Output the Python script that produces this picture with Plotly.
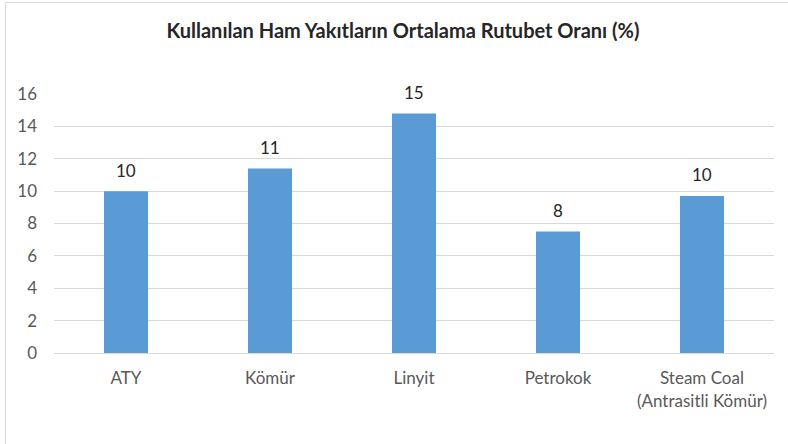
import plotly.graph_objects as go

categories = ["ATY", "Kömür", "Linyit", "Petrokok", "Steam Coal<br>(Antrasitli Kömür)"]
values = [10.0, 11.4, 14.8, 7.5, 9.7]
labels = ["10", "11", "15", "8", "10"]
y_ticks = [0, 2, 4, 6, 8, 10, 12, 14, 16]

FONT = "Lato, 'Open Sans', sans-serif"

fig = go.Figure(go.Bar(
    x=categories, y=values,
    marker=dict(color="#5B9BD5", line=dict(width=0)),
    width=0.306,
    hoverinfo="x+y",
))

for c, v, t in zip(categories, values, labels):
    fig.add_annotation(x=c, y=v, text=t, showarrow=False, yanchor="middle",
                       yshift=21, font=dict(size=17, color="#262626", family=FONT))

L, R, T, B = 54, 14, 94, 91
W, H = 788, 444
pw, ph = W - L - R, H - T - B

fig.update_layout(
    width=W, height=H,
    margin=dict(l=L, r=R, t=T, b=B),
    plot_bgcolor="white", paper_bgcolor="white",
    showlegend=False,
    title=dict(text="<b>Kullanılan Ham Yakıtların Ortalama Rutubet Oranı (%)</b>",
               x=403 / W, xanchor="center", y=1 - 31 / H, yanchor="middle",
               font=dict(size=20, color="#262626", family=FONT)),
    font=dict(family=FONT),
    xaxis=dict(showgrid=False, showline=True, linecolor="#D9D9D9", linewidth=1,
               ticks="", tickfont=dict(size=17, color="#595959", family=FONT),
               ticklabelstandoff=10),
    yaxis=dict(range=[0, 16], tickvals=y_ticks, showgrid=True, gridcolor="#D9D9D9",
               gridwidth=1, zeroline=False, showline=False, ticks="",
               tickfont=dict(size=17, color="#595959", family=FONT),
               ticklabelstandoff=16),
    shapes=[dict(type="rect", xref="paper", yref="paper",
                 x0=(5.5 - L) / pw, x1=(W + 5 - L) / pw,
                 y0=-(H + 5 - T - ph) / ph, y1=(T + ph - 2.5) / ph,
                 line=dict(color="#D9D9D9", width=1), fillcolor="rgba(0,0,0,0)",
                 layer="below")],
)

fig.write_html("out.html", config={"displayModeBar": False},
               post_script="document.body.style.margin='0';")
